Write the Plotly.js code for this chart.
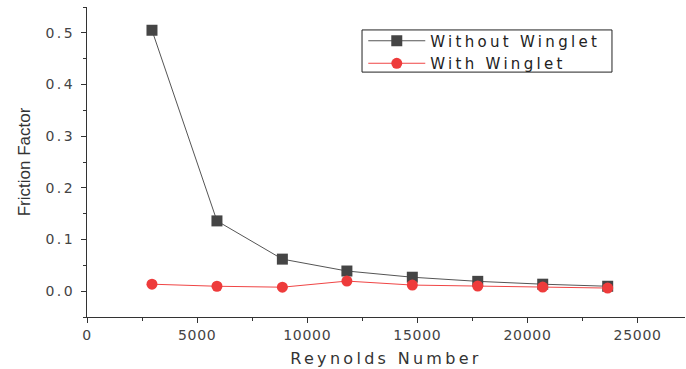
<!DOCTYPE html>
<html>
<head>
<meta charset="utf-8">
<script src="https://cdn.plot.ly/plotly-3.0.1.min.js"></script>
<style>
  html, body { margin: 0; padding: 0; background: #fff; }
  #chart { width: 686px; height: 369px; }
  .xtick text { letter-spacing: 0.7px; }
  .ytick text { letter-spacing: 2.5px; }
  .legendtext { letter-spacing: 3.3px; }
  .g-xtitle text { letter-spacing: 3.3px; }
</style>
</head>
<body>
<div id="chart"></div>
<script>
const reynolds = [2950, 5900, 8870, 11800, 14770, 17740, 20690, 23640];
const withoutWinglet = [0.505, 0.136, 0.062, 0.039, 0.027, 0.019, 0.0135, 0.0095];
const withWinglet = [0.0135, 0.0095, 0.0077, 0.0195, 0.0118, 0.010, 0.008, 0.006];
const seriesNames = ["Without Winglet", "With Winglet"];

const traces = [
  {
    x: reynolds, y: withoutWinglet, name: seriesNames[0],
    type: 'scatter', mode: 'lines+markers',
    line: { color: '#555555', width: 1 },
    marker: { symbol: 'square', size: 11, color: '#454545' }
  },
  {
    x: reynolds, y: withWinglet, name: seriesNames[1],
    type: 'scatter', mode: 'lines+markers',
    line: { color: '#f04545', width: 1 },
    marker: { symbol: 'circle', size: 11, color: '#ee3b3b' }
  }
];

const tickFont = { family: 'DejaVu Sans', size: 14, color: '#444' };

const layout = {
  width: 686, height: 369,
  margin: { l: 87, r: 1, t: 7, b: 52 },
  paper_bgcolor: '#ffffff', plot_bgcolor: '#ffffff',
  showlegend: true,
  legend: {
    x: 0.462, y: 0.9435, xanchor: 'left', yanchor: 'top',
    borderwidth: 0, bgcolor: 'rgba(0,0,0,0)',
    font: { family: 'DejaVu Sans', size: 15, color: '#222' },
    itemwidth: 57, tracegroupgap: 0
  },
  shapes: [{
    type: 'rect', xref: 'paper', yref: 'paper',
    x0: 0.4599, x1: 0.8779, y0: 0.790, y1: 0.926,
    line: { color: '#222', width: 1 }, fillcolor: 'rgba(0,0,0,0)'
  }],
  xaxis: {
    range: [0, 27150], showgrid: false, zeroline: false,
    showline: true, linecolor: '#333', linewidth: 1,
    ticks: 'outside', ticklen: 5, tickcolor: '#333',
    tick0: 0, dtick: 5000, tickformat: 'd',
    minor: { ticks: 'outside', ticklen: 3, dtick: 2500, tickcolor: '#333' },
    tickfont: tickFont,
    title: { text: 'Reynolds Number', font: { family: 'DejaVu Sans', size: 16, color: '#333' }, standoff: 11 }
  },
  yaxis: {
    range: [-0.05, 0.55], showgrid: false, zeroline: false,
    showline: true, linecolor: '#333', linewidth: 1,
    ticks: 'outside', ticklen: 5, tickcolor: '#333',
    tick0: 0, dtick: 0.1, tickformat: '.1f',
    ticklabelstandoff: 3,
    minor: { ticks: 'outside', ticklen: 3, dtick: 0.05, tickcolor: '#333' },
    tickfont: tickFont,
    title: { text: 'Friction Factor', font: { family: 'Liberation Sans, Arial, sans-serif', size: 17, color: '#333' }, standoff: 10 }
  }
};

Plotly.newPlot('chart', traces, layout, { displayModeBar: false, staticPlot: true });
</script>
</body>
</html>
